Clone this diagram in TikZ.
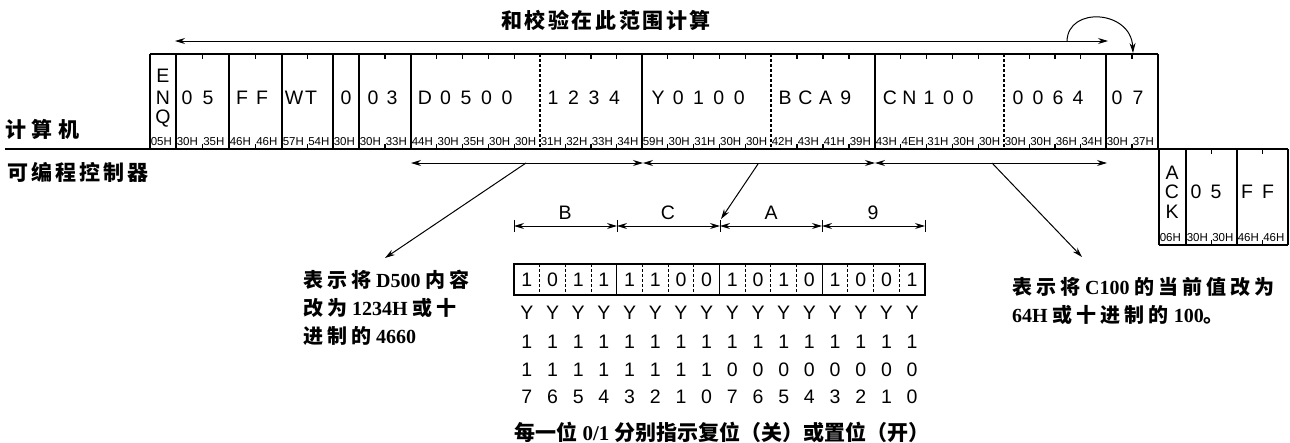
\documentclass[tikz,border=0pt]{standalone}
\usepackage{fontspec}
\setmainfont{Liberation Sans}
\newfontfamily\cjk{Noto Sans CJK SC}
\newfontfamily\cjkls[LetterSpace=20]{Noto Sans CJK SC}
\newfontfamily\lser{Liberation Serif}
\usetikzlibrary{arrows.meta}

\tikzset{
  frame/.style={line width=1.1pt},
  ch/.style={font=\fontsize{19.5}{19.5}\selectfont, inner sep=0pt},
  hexl/.style={font=\fontsize{11.5}{11.5}\selectfont, inner sep=0pt, anchor=base west},
  arr/.style={line width=1pt, -{Stealth[length=10pt,width=6pt]}},
  darr/.style={line width=1pt, {Stealth[length=10pt,width=6pt]}-{Stealth[length=10pt,width=6pt]}},
  dsh/.style={line width=1.1pt, dash pattern=on 3pt off 2pt},
  note/.style={font=\lser\bfseries\fontsize{20}{20}\selectfont, inner sep=0pt, anchor=west},
}

\newcommand\cellbox[5]{% left, right, n cells, bottom y, hex list
  \pgfmathsetmacro\cw{(#2-#1)/#3}
  \foreach \h [count=\i from 0] in {#5} {
    \node[hexl] at ({#1+\i*\cw+0.6},{#4-4}) {\h};
    \ifnum\i>0
      \draw[frame] ({#1+\i*\cw},{#4-95}) -- ++(0,5);
      \draw[frame] ({#1+\i*\cw},#4) -- ++(0,-5);
    \fi
  }
}

\begin{document}
\begin{tikzpicture}[x=1pt,y=-1pt]
\useasboundingbox (0,0) rectangle (1290,442);

% title and range arrow
\node[inner sep=0pt, font=\cjk\bfseries\fontsize{21}{21}\selectfont\addfontfeature{LetterSpace=12}] (title) at (606,20) {和校验在此范围计算};
\coordinate (rl) at (175,41);
\coordinate (rr) at (1108,41);
\draw[darr] (rl) -- (rr);
\coordinate (c1) at (1067,41);
\coordinate (c2) at (1133,53);
\draw[arr] (c1) .. controls (1068,6) and (1131,10) .. (c2);

% side labels
\node[inner sep=0pt, anchor=west, font=\cjk\bfseries\fontsize{21}{21}\selectfont\addfontfeature{LetterSpace=27}] (pc) at (5,129) {计算机};
\node[inner sep=0pt, anchor=west, font=\cjk\bfseries\fontsize{21}{21}\selectfont\addfontfeature{LetterSpace=15}] (plc) at (7,172) {可编程控制器};

% main frame
\draw[frame] (150,54) -- (1158,54);
\draw[frame] (5,149) -- (1288,149);
\foreach \x in {150,176,229,282,333,359,411,642,875,1106,1158}
  \draw[frame] (\x,54) -- (\x,149);
\foreach \x in {540,771,1004}
  \draw[dsh] (\x,54) -- (\x,149);

\cellbox{150}{176}{1}{149}{05H}
\cellbox{176}{229}{2}{149}{30H,35H}
\cellbox{229}{282}{2}{149}{46H,46H}
\cellbox{282}{333}{2}{149}{57H,54H}
\cellbox{333}{359}{1}{149}{30H}
\cellbox{359}{411}{2}{149}{30H,33H}
\cellbox{411}{540}{5}{149}{44H,30H,35H,30H,30H}
\cellbox{540}{642}{4}{149}{31H,32H,33H,34H}
\cellbox{642}{771}{5}{149}{59H,30H,31H,30H,30H}
\cellbox{771}{875}{4}{149}{42H,43H,41H,39H}
\cellbox{875}{1004}{5}{149}{43H,4EH,31H,30H,30H}
\cellbox{1004}{1106}{4}{149}{30H,30H,36H,34H}
\cellbox{1106}{1158}{2}{149}{30H,37H}

% frame characters
\node[ch] (e1) at (163,76) {E};
\node[ch] (e2) at (163,98) {N};
\node[ch] (e3) at (163,119) {Q};
\foreach \c [count=\i from 0] in {0,5} \node[ch] at ({187+\i*21},98) {\c};
\foreach \c [count=\i from 0] in {F,F} \node[ch] at ({242+\i*20},98) {\c};
\foreach \c [count=\i from 0] in {W,T} \node[ch] at ({294+\i*17},98) {\c};
\node[ch] at (346,98) {0};
\foreach \c [count=\i from 0] in {0,3} \node[ch] at ({373+\i*19},98) {\c};
\foreach \c [count=\i from 0] in {D,0,5,0,0} \node[ch] at ({425+\i*20.5},98) {\c};
\foreach \c [count=\i from 0] in {1,2,3,4} \node[ch] at ({553+\i*20.5},98) {\c};
\foreach \c [count=\i from 0] in {Y,0,1,0,0} \node[ch] at ({658+\i*20.3},98) {\c};
\foreach \c [count=\i from 0] in {B,C,A,9} \node[ch] at ({785+\i*20.3},98) {\c};
\foreach \c [count=\i from 0] in {C,N,1,0,0} \node[ch] at ({890+\i*19.5},98) {\c};
\foreach \c [count=\i from 0] in {0,0,6,4} \node[ch] at ({1018+\i*20},98) {\c};
\foreach \c [count=\i from 0] in {0,7} \node[ch] at ({1117+\i*21},98) {\c};

% ACK response
\foreach \x in {1159,1186,1237,1288}
  \draw[frame] (\x,149) -- (\x,245);
\draw[frame] (1159,245) -- (1288,245);
\node[hexl] at (1159.6,241) {06H};
\node[hexl] at (1186.6,241) {30H};
\node[hexl] at (1212.1,241) {30H};
\node[hexl] at (1237.6,241) {46H};
\node[hexl] at (1263.1,241) {46H};
\foreach \x in {1211.5,1262.5} {
  \draw[frame] (\x,149) -- ++(0,5);
  \draw[frame] (\x,245) -- ++(0,-5);
}
\node[ch] (a1) at (1172,173) {A};
\node[ch] (a2) at (1172,192) {C};
\node[ch] (a3) at (1172,212) {K};
\node[ch] at (1196,192) {0};
\node[ch] at (1216,192) {5};
\node[ch] at (1247,192) {F};
\node[ch] at (1268,192) {F};

% field arrows
\coordinate (f0) at (411,163);
\coordinate (f1) at (643,163);
\coordinate (f2) at (875,163);
\coordinate (f3) at (1107,163);
\draw[darr] (f0) -- (f1);
\draw[darr] (f1) -- (f2);
\draw[darr] (f2) -- (f3);

% leaders
\coordinate (s1) at (526,163);
\coordinate (t1) at (385,258);
\coordinate (s2) at (758,164);
\coordinate (t2) at (721,219);
\coordinate (s3) at (992,163);
\coordinate (t3) at (1082,257);
\draw[arr] (s1) -- (t1);
\draw[arr] (s2) -- (t2);
\draw[arr] (s3) -- (t3);

% dimension line
\coordinate (d0) at (514,226);
\coordinate (d1) at (617,226);
\coordinate (d2) at (720,226);
\coordinate (d3) at (822,226);
\coordinate (d4) at (925,226);
\draw[darr] (d0) -- (d1);
\draw[darr] (d1) -- (d2);
\draw[darr] (d2) -- (d3);
\draw[darr] (d3) -- (d4);
\foreach \x in {514,617,720,822,925} \draw[line width=1pt] (\x,220) -- (\x,232);
\node[ch] (lB) at (565,213) {B};
\node[ch] (lC) at (668,213) {C};
\node[ch] (lA) at (771,213) {A};
\node[ch] (l9) at (873,213) {9};

% bit box
\draw[frame] (514,264) rectangle (925,295);
\foreach \k in {1,...,15} {
  \pgfmathsetmacro\xx{514+\k*411/16}
  \pgfmathtruncatemacro\mm{mod(\k,4)}
  \ifnum\mm=0
    \draw[frame] (\xx,264) -- (\xx,295);
  \else
    \draw[dsh] (\xx,264) -- (\xx,295);
  \fi
}
\foreach \b [count=\i from 0] in {1,0,1,1,1,1,0,0,1,0,1,0,1,0,0,1}
  \node[ch] at ({514+(\i+0.5)*411/16},280) {\b};
\foreach \i in {0,...,15} {
  \node[ch] at ({514+(\i+0.5)*411/16},313) {Y};
  \node[ch] at ({514+(\i+0.5)*411/16},342) {1};
}
\foreach \b [count=\i from 0] in {1,1,1,1,1,1,1,1,0,0,0,0,0,0,0,0}
  \node[ch] at ({514+(\i+0.5)*411/16},370) {\b};
\foreach \b [count=\i from 0] in {7,6,5,4,3,2,1,0,7,6,5,4,3,2,1,0}
  \node[ch] at ({514+(\i+0.5)*411/16},397) {\b};
\node[inner sep=0pt, font=\cjk\bfseries\fontsize{21}{21}\selectfont] (cap) at (722,432) {每一位 {\lser 0/1} 分别指示复位（关）或置位（开）};

% annotations
\node[note] (n1) at (303,280) {{\cjkls 表示将} D500 {\cjkls 内容}};
\node[note] (n2) at (303,308) {{\cjkls 改为} 1234H {\cjkls 或十}};
\node[note] (n3) at (303,336) {{\cjkls 进制的} 4660};
\node[note] (n4) at (1012,287) {{\cjkls 表示将} C100 {\cjkls 的当前值改为}};
\node[note] (n5) at (1012,315) {64H {\cjkls 或十进制的} 100{\cjkls 。}};
\end{tikzpicture}
\end{document}
